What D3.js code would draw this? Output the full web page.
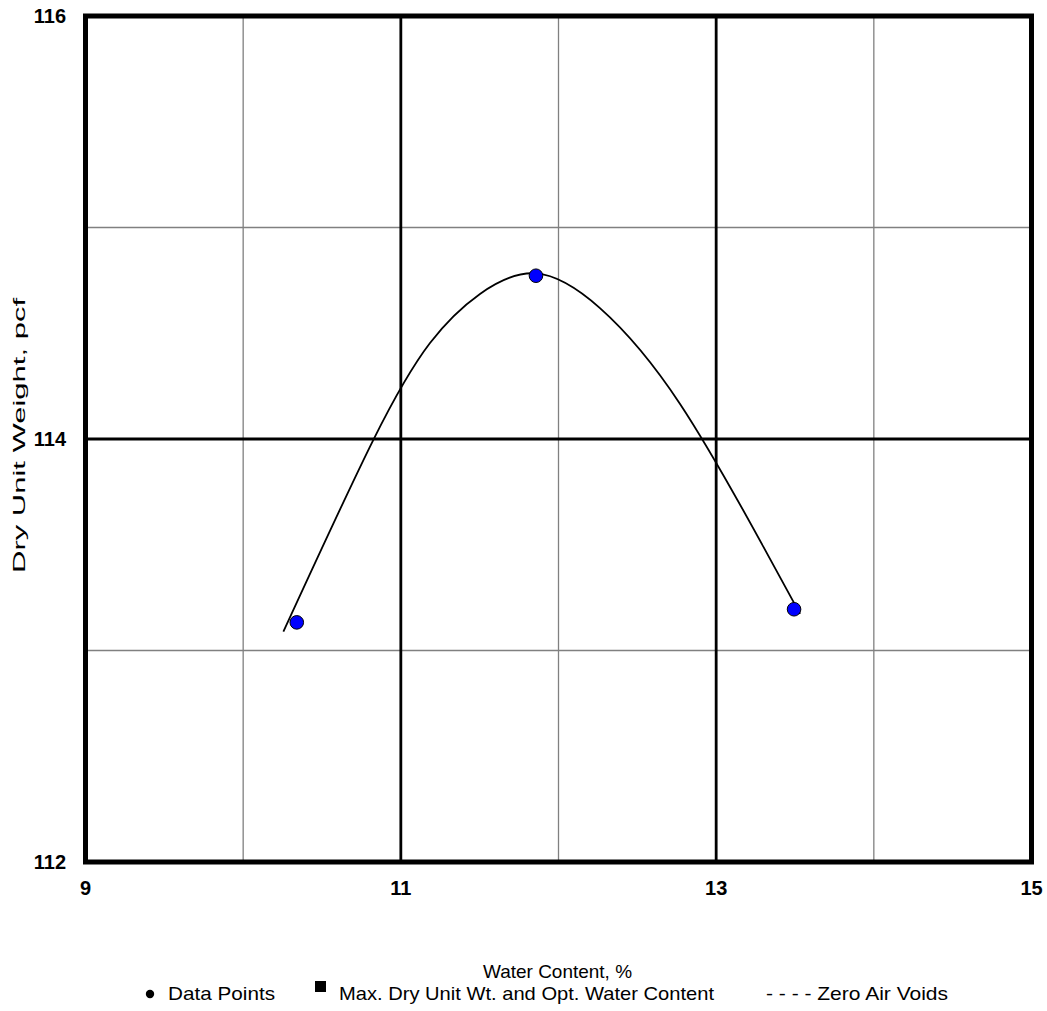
<!DOCTYPE html>
<html><head><meta charset="utf-8">
<script src="https://cdn.jsdelivr.net/npm/d3@7"></script>
<style>body{margin:0;background:#fff}svg{display:block}text{font-family:"Liberation Sans",Arial,sans-serif}</style>
</head><body>
<script>
const waterContent = [10.34, 11.857, 13.494];
const dryUnitWeight = [113.133, 114.772, 113.195];
const curveX = [10.255, 10.825, 11.185, 11.502, 11.857, 12.263, 12.771, 13.299, 13.532];
const curveY = [113.089, 113.995, 114.454, 114.686, 114.783, 114.619, 114.166, 113.491, 113.173];
const xTicks = [9, 11, 13, 15];
const yTicks = [112, 114, 116];
const xMinor = [10, 12, 14];
const yMinor = [113, 115];
const legendLabels = ["Data Points", "Max. Dry Unit Wt. and Opt. Water Content", "- - - - Zero Air Voids"];

const W = 1047, H = 1011;
const L = 85.5, R = 1031.5, T = 16, B = 862;
const svg = d3.select("body").append("svg").attr("width", W).attr("height", H);
const x = d3.scaleLinear().domain([9, 15]).range([L, R]);
const y = d3.scaleLinear().domain([112, 116]).range([B, T]);

// minor grid
svg.append("g").selectAll("line").data(xMinor).join("line")
  .attr("x1", d => x(d)).attr("x2", d => x(d)).attr("y1", T).attr("y2", B)
  .attr("stroke", "#808080").attr("stroke-width", 1.3);
svg.append("g").selectAll("line").data(yMinor).join("line")
  .attr("y1", d => y(d)).attr("y2", d => y(d)).attr("x1", L).attr("x2", R)
  .attr("stroke", "#808080").attr("stroke-width", 1.3);
// major grid
svg.append("g").selectAll("line").data(xTicks.slice(1, -1)).join("line")
  .attr("x1", d => x(d)).attr("x2", d => x(d)).attr("y1", T).attr("y2", B)
  .attr("stroke", "#000").attr("stroke-width", 2.8);
svg.append("g").selectAll("line").data(yTicks.slice(1, -1)).join("line")
  .attr("y1", d => y(d)).attr("y2", d => y(d)).attr("x1", L).attr("x2", R)
  .attr("stroke", "#000").attr("stroke-width", 2.8);
// frame
svg.append("rect").attr("x", L).attr("y", T).attr("width", R - L).attr("height", B - T)
  .attr("fill", "none").attr("stroke", "#000").attr("stroke-width", 5);

// curve
const pts = curveX.map((d, i) => [d, curveY[i]]);
svg.append("path").datum(pts)
  .attr("d", d3.line().x(d => x(d[0])).y(d => y(d[1])).curve(d3.curveNatural))
  .attr("fill", "none").attr("stroke", "#000").attr("stroke-width", 1.8);

// points
svg.append("g").selectAll("circle").data(waterContent).join("circle")
  .attr("cx", d => x(d)).attr("cy", (d, i) => y(dryUnitWeight[i])).attr("r", 6.8)
  .attr("fill", "#0000ff").attr("stroke", "#000").attr("stroke-width", 1);

// tick labels
svg.append("g").selectAll("text").data(yTicks).join("text")
  .attr("x", 66).attr("y", d => y(d)).attr("dy", "0.36em").attr("text-anchor", "end")
  .attr("font-size", 20).attr("font-weight", "bold").text(d => d);
svg.append("g").selectAll("text").data(xTicks).join("text")
  .attr("x", d => x(d)).attr("y", 895).attr("text-anchor", "middle")
  .attr("font-size", 20).attr("font-weight", "bold").text(d => d);

// axis titles
svg.append("text").attr("x", 483).attr("y", 978)
  .attr("font-size", 19).attr("textLength", 149).attr("lengthAdjust", "spacingAndGlyphs")
  .text("Water Content, %");
svg.append("text").attr("transform", "translate(25,573) rotate(-90)")
  .attr("font-size", 17).attr("textLength", 275).attr("lengthAdjust", "spacingAndGlyphs")
  .text("Dry Unit Weight, pcf");

// legend
const lg = svg.append("g");
const ly = 1000;
lg.append("circle").attr("cx", 150).attr("cy", ly - 6).attr("r", 4.2).attr("fill", "#000");
lg.append("text").attr("x", 168).attr("y", ly).attr("font-size", 19)
  .attr("textLength", 107).attr("lengthAdjust", "spacingAndGlyphs").text(legendLabels[0]);
lg.append("rect").attr("x", 315).attr("y", ly - 19).attr("width", 11).attr("height", 11).attr("fill", "#000");
lg.append("text").attr("x", 339).attr("y", ly).attr("font-size", 19)
  .attr("textLength", 375).attr("lengthAdjust", "spacingAndGlyphs").text(legendLabels[1]);
lg.append("text").attr("x", 766).attr("y", ly).attr("font-size", 19)
  .attr("textLength", 182).attr("lengthAdjust", "spacingAndGlyphs").text(legendLabels[2]);
</script>
</body></html>
